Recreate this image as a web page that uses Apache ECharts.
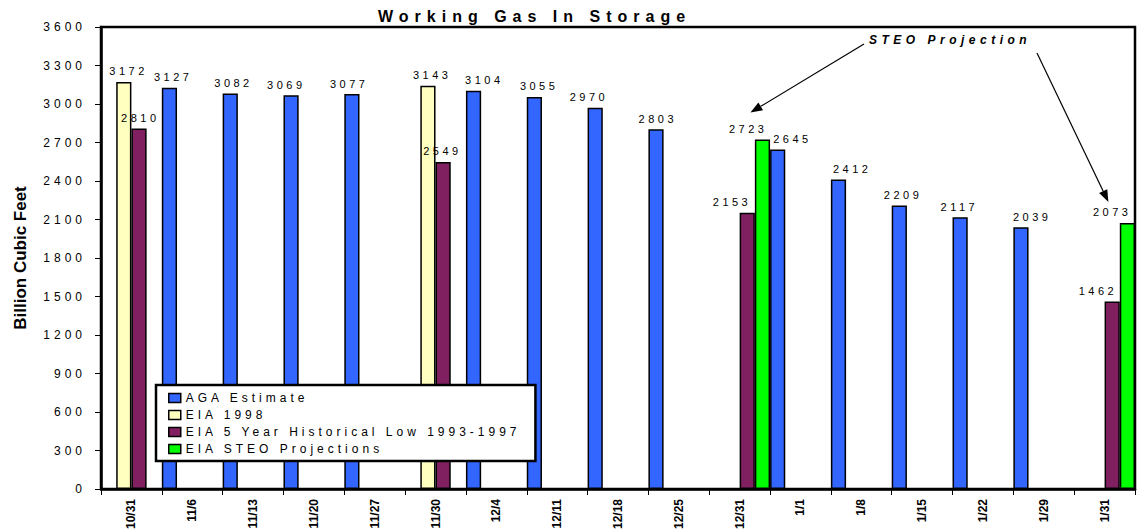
<!DOCTYPE html>
<html>
<head>
<meta charset="utf-8">
<script src="https://cdn.jsdelivr.net/npm/echarts@6/dist/echarts.min.js"></script>
<style>
html,body{margin:0;padding:0;background:#fff;}
#chart{width:1140px;height:531px;overflow:hidden;}
</style>
</head>
<body>
<div id="chart"></div>
<script>
// ---- data ----
const categories = ['10/31','11/6','11/13','11/20','11/27','11/30','12/4','12/11','12/18','12/25','12/31','1/1','1/8','1/15','1/22','1/29','1/31'];
const agaEstimate = [null,3127,3082,3069,3077,null,3104,3055,2970,2803,null,2645,2412,2209,2117,2039,null];
const eia1998     = [3172,null,null,null,null,3143,null,null,null,null,null,null,null,null,null,null,null];
const eiaHistLow  = [2810,null,null,null,null,2549,null,null,null,null,2153,null,null,null,null,null,1462];
const eiaSteo     = [null,null,null,null,null,null,null,null,null,null,2723,null,null,null,null,null,2073];
const seriesNames = ['AGA Estimate','EIA 1998','EIA 5 Year Historical Low 1993-1997','EIA STEO Projections'];
const yTickLabels = ['0','300','600','900','1200','1500','1800','2100','2400','2700','3000','3300','3600'];
const titleText = 'Working Gas In Storage';
const yAxisName = 'Billion Cubic Feet';
const noteText = 'STEO Projection';

// ---- style ----
const FONT = "'Liberation Sans', Arial, sans-serif";
const colors = ['#3366ff', '#ffffc0', '#802060', '#00ff00'];
const seriesValues = [agaEstimate, eia1998, eiaHistLow, eiaSteo];
// horizontal nudges (px) of the value labels, as placed in the original
const labelDx = [
  [0, 2, 1.5, -6.5, -4.5, 0, 9, 3, -8, 0, 0, 13, 12, 2, -2.5, 9.5, 0],
  [3, 0, 0, 0, 0, 2.5, 0, 0, 0, 0, 0, 0, 0, 0, 0, 0, 0],
  [-0.5, 0, 0, 0, 0, -2.5, 0, 0, 0, 0, -17, 0, 0, 0, 0, 0, -16],
  [0, 0, 0, 0, 0, 0, 0, 0, 0, 0, -16, 0, 0, 0, 0, 0, -17]
];
const SPACING_SHIFT = 1.75; // half the letter spacing of the value labels

function buildData(values, idx) {
  return values.map((v, i) => {
    if (v === null) return null;
    return { value: v, label: { offset: [labelDx[idx][i] + SPACING_SHIFT, 0] } };
  });
}

const chart = echarts.init(document.getElementById('chart'), null, { renderer: 'svg' });

const series = seriesNames.map((name, idx) => ({
  name: name,
  type: 'bar',
  data: buildData(seriesValues[idx], idx),
  barGap: '0%',
  barCategoryGap: '0%',
  silent: true,
  itemStyle: { color: colors[idx], borderColor: '#000', borderWidth: 1.5 },
  label: {
    show: true, position: 'top', distance: 5,
    fontFamily: FONT, fontSize: 11, color: '#000'
  }
}));

chart.setOption({
  animation: false,
  backgroundColor: '#fff',
  title: {
    text: titleText, left: 378, top: 8, padding: 0,
    textStyle: { fontFamily: FONT, fontSize: 16, fontWeight: 'bold', color: '#000' }
  },
  grid: {
    left: 101, right: 5, top: 27, bottom: 42,
    containLabel: false, outerBoundsMode: 'none',
    show: true, borderColor: '#000', borderWidth: 2.5, backgroundColor: '#fff'
  },
  legend: {
    orient: 'vertical', left: 156, top: 385,
    padding: [7, 154, 6, 12],
    itemWidth: 12, itemHeight: 9, itemGap: 5,
    selectedMode: false,
    backgroundColor: '#fff', borderColor: '#000', borderWidth: 2.5,
    icon: 'rect',
    itemStyle: { borderColor: '#000', borderWidth: 1.5 },
    textStyle: { fontFamily: FONT, fontSize: 12, color: '#000' },
    data: seriesNames
  },
  xAxis: {
    type: 'category',
    data: categories,
    axisLine: { lineStyle: { color: '#000', width: 2.5 } },
    axisTick: { show: true, length: 6, lineStyle: { color: '#000', width: 1 } },
    axisLabel: {
      interval: 0, rotate: 90, margin: 10,
      fontFamily: FONT, fontSize: 12, fontWeight: 'bold', color: '#000'
    },
    splitLine: { show: false }
  },
  yAxis: {
    type: 'value', min: 0, max: 3600, interval: 300,
    name: yAxisName, nameLocation: 'middle', nameGap: 72,
    nameTextStyle: { fontFamily: FONT, fontSize: 17, fontWeight: 'bold', color: '#000' },
    axisLine: { show: true, lineStyle: { color: '#000', width: 2.5 } },
    axisTick: { show: true, length: 6, lineStyle: { color: '#000', width: 1 } },
    axisLabel: {
      margin: 15, fontFamily: FONT, fontSize: 12, color: '#000',
      formatter: v => String(v)
    },
    splitLine: { show: false }
  },
  series: series
});

// ---- annotation: "STEO Projection" with arrows to the projection bars ----
const noteLeft = 869, noteMiddle = 41;
const arrowSpecs = [
  { cat: 10, from: [864, 44], dx: -12, dy: -27 },
  { cat: 16, from: [1037, 53], dx: -19, dy: -21 }
];
const band = chart.getModel().getComponent('xAxis', 0).axis.getBandWidth();
const graphics = [{
  type: 'text', left: noteLeft, top: noteMiddle - 7, silent: true,
  style: { text: noteText, font: "italic bold 12px " + FONT, fill: '#000' }
}];
arrowSpecs.forEach(a => {
  const p = chart.convertToPixel({ gridIndex: 0 }, [a.cat, eiaSteo[a.cat]]);
  const barCenter = p[0] + 1.5 * band / 4;
  const tip = [barCenter + a.dx, p[1] + a.dy];
  const vx = tip[0] - a.from[0], vy = tip[1] - a.from[1];
  const len = Math.sqrt(vx * vx + vy * vy);
  const ux = vx / len, uy = vy / len, nx = -uy, ny = ux;
  const L = 12, W = 9;
  const base = [tip[0] - ux * L, tip[1] - uy * L];
  graphics.push({
    type: 'line', silent: true,
    shape: { x1: a.from[0], y1: a.from[1], x2: base[0], y2: base[1] },
    style: { stroke: '#000', lineWidth: 1.2 }
  });
  graphics.push({
    type: 'polygon', silent: true,
    shape: { points: [tip, [base[0] + nx * W / 2, base[1] + ny * W / 2], [base[0] - nx * W / 2, base[1] - ny * W / 2]] },
    style: { fill: '#000' }
  });
});
chart.setOption({ graphic: graphics });

// ---- letter spacing as in the original rendering ----
function applySpacing() {
  document.querySelectorAll('#chart svg text').forEach(t => {
    const s = t.textContent;
    let ls = null;
    if (s === titleText) ls = 6;
    else if (s === noteText) ls = 4.5;
    else if (seriesNames.indexOf(s) >= 0) ls = 4;
    else if (categories.indexOf(s) >= 0 || s === yAxisName) ls = 0;
    else if (yTickLabels.indexOf(s) >= 0) ls = 4;
    else if (/^\d+$/.test(s)) ls = 3.5;
    if (ls !== null) t.style.letterSpacing = ls + 'px';
  });
}
chart.on('finished', applySpacing);
try { chart.getZr().flush(); } catch (e) {}
applySpacing();
setTimeout(applySpacing, 30);
setTimeout(applySpacing, 200);
</script>
</body>
</html>
